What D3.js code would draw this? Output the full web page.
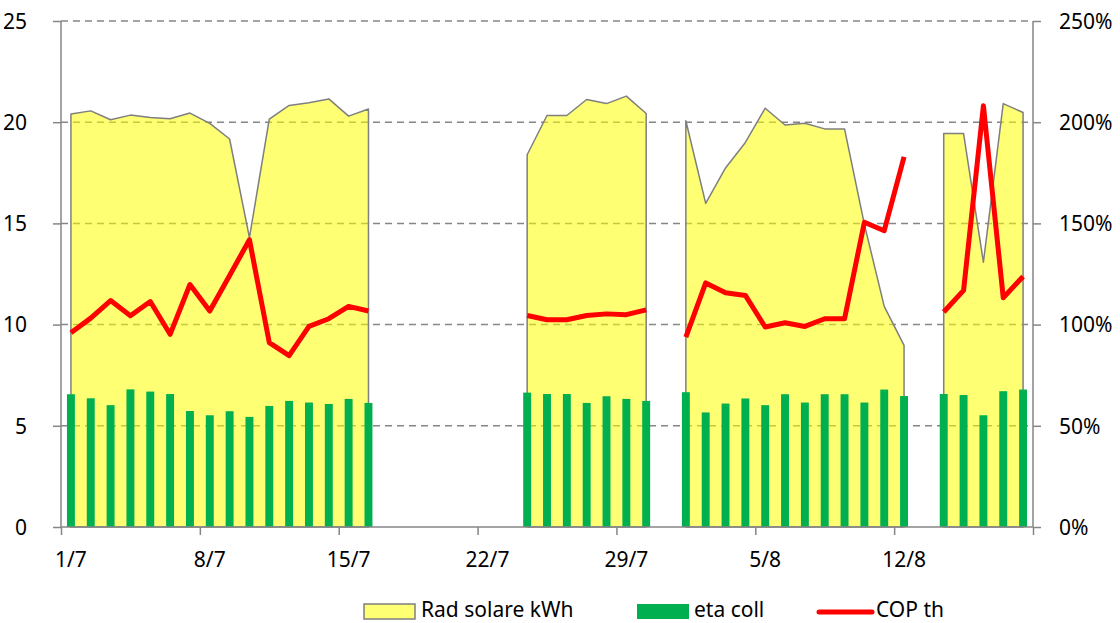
<!DOCTYPE html>
<html>
<head>
<meta charset="utf-8">
<script src="https://cdn.jsdelivr.net/npm/d3@7"></script>
<style>
  body { margin: 0; background: #fff; }
  text { font-family: "Noto Sans", "Open Sans", sans-serif; fill: #000; }
</style>
</head>
<body>
<div id="chart"></div>
<script>
// days 1/7 .. 18/8
const days = d3.timeDays(new Date(2023, 6, 1), new Date(2023, 7, 19))
  .map(d => d.getDate() + "/" + (d.getMonth() + 1));

const radSolare = [
  20.4, 20.56, 20.12, 20.35, 20.23, 20.17, 20.45, 19.94, 19.17, 14.3, 20.15, 20.83, 20.96, 21.15, 20.3, 20.65,
  null, null, null, null, null, null, null,
  18.39, 20.33, 20.33, 21.12, 20.92, 21.29, 20.43,
  null,
  20.07, 15.99, 17.74, 19.0, 20.69, 19.86, 19.95, 19.67, 19.67, 14.95, 10.9, 8.97,
  null,
  19.44, 19.44, 13.08, 20.92, 20.48
];

// %
const etaColl = [
  65.6, 63.6, 60.2, 68.0, 66.9, 65.7, 57.3, 55.2, 57.2, 54.4, 59.8, 62.3, 61.5, 60.8, 63.3, 61.3,
  null, null, null, null, null, null, null,
  66.4, 65.7, 65.7, 61.3, 64.6, 63.3, 62.3,
  null,
  66.6, 56.6, 61.0, 63.5, 60.2, 65.6, 61.5, 65.6, 65.6, 61.5, 67.9, 64.7,
  null,
  65.7, 65.2, 55.2, 67.1, 67.9
];

// %
const copTh = [
  96.0, 103.2, 111.9, 104.4, 111.4, 95.2, 119.8, 106.7, 124.3, 141.9, 91.1, 84.7, 99.1, 102.9, 109, 106.7,
  null, null, null, null, null, null, null,
  104.5, 102.4, 102.4, 104.5, 105.3, 104.9, 107.3,
  null,
  93.8, 120.6, 115.7, 114.4, 98.8, 100.9, 99.1, 102.9, 102.9, 150.6, 146.4, 182.9,
  null,
  106.2, 116.9, 208.1, 113.3, 123.8
];

const leftTicks = [0, 5, 10, 15, 20, 25];
const rightTicks = [0, 50, 100, 150, 200, 250];
const legendItems = ["Rad solare kWh", "eta coll", "COP th"];

const data = days.map((d, i) => ({ day: d, rad: radSolare[i], eta: etaColl[i], cop: copTh[i] }));

const W = 1120, H = 623;
const pLeft = 61, pRight = 1033, pTop = 21, pBottom = 527;

const svg = d3.select("#chart").append("svg")
  .attr("width", W).attr("height", H);

const x = d3.scaleBand()
  .domain(days)
  .range([pLeft, pRight])
  .paddingInner(0.6)
  .paddingOuter(0.3);
const cx = d => x(d) + x.bandwidth() / 2;

const xEdge = d3.scaleLinear().domain([0, days.length]).range([pLeft, pRight]);

const y = d3.scaleLinear().domain([0, 25]).range([pBottom, pTop]);
const y2 = d3.scaleLinear().domain([0, 250]).range([pBottom, pTop]);

// gridlines
svg.append("g")
  .selectAll("line")
  .data(leftTicks.slice(1))
  .join("line")
    .attr("x1", pLeft).attr("x2", pRight)
    .attr("y1", d => y(d)).attr("y2", d => y(d))
    .attr("stroke", "#868686")
    .attr("stroke-width", 1.5)
    .attr("stroke-dasharray", "7,5");

// area
const area = d3.area()
  .defined(d => d.rad != null)
  .x(d => cx(d.day))
  .y0(y(0))
  .y1(d => y(d.rad));

svg.append("path")
  .datum(data)
  .attr("d", area)
  .attr("fill", "#ffff00")
  .attr("fill-opacity", 0.55)
  .attr("stroke", "#7f7f7f")
  .attr("stroke-width", 1.5)
  .attr("stroke-linejoin", "round");

// bars
svg.append("g")
  .selectAll("rect")
  .data(data.filter(d => d.eta != null))
  .join("rect")
    .attr("x", d => x(d.day))
    .attr("width", x.bandwidth())
    .attr("y", d => y2(d.eta))
    .attr("height", d => y2(0) - y2(d.eta))
    .attr("fill", "#00b050");

// axes
const axisColor = "#868686";

const gLeft = svg.append("g")
  .attr("transform", `translate(${pLeft},0)`)
  .call(d3.axisLeft(y).tickValues(leftTicks).tickSize(8).tickPadding(26).tickFormat(d3.format("d")));

const gRight = svg.append("g")
  .attr("transform", `translate(${pRight},0)`)
  .call(d3.axisRight(y2).tickValues(rightTicks).tickSize(8).tickPadding(18).tickFormat(d => d + "%"));

const gBottomTicks = svg.append("g")
  .attr("transform", `translate(0,${pBottom})`)
  .call(d3.axisBottom(xEdge).tickValues(d3.range(0, days.length + 1, 7)).tickSize(8).tickFormat(""));

const gBottom = svg.append("g")
  .attr("transform", `translate(0,${pBottom})`)
  .call(d3.axisBottom(x).tickValues(days.filter((d, i) => i % 7 === 0)).tickSize(0).tickPadding(34));

gBottom.select(".domain").remove();

[gLeft, gRight, gBottomTicks].forEach(g => {
  g.selectAll(".domain").attr("stroke", axisColor).attr("stroke-width", 1.5);
  g.selectAll(".tick line").attr("stroke", axisColor).attr("stroke-width", 1.5);
});
gLeft.select(".domain").attr("d", `M0,${pTop}V${pBottom}`);
gRight.select(".domain").attr("d", `M0,${pTop}V${pBottom}`);
gBottomTicks.select(".domain").attr("d", `M${pLeft},0H${pRight}`);

svg.selectAll(".tick text")
  .style("font-family", '"Noto Sans", "Open Sans", sans-serif')
  .style("font-size", "21px")
  .attr("fill", "#000");
gLeft.selectAll(".tick text").attr("dy", "0.35em");
gRight.selectAll(".tick text").attr("dy", "0.35em");
gBottom.selectAll(".tick text").attr("dy", "0.3em");

// COP line
const line = d3.line()
  .defined(d => d.cop != null)
  .x(d => cx(d.day))
  .y(d => y2(d.cop));

svg.append("path")
  .datum(data)
  .attr("d", line)
  .attr("fill", "none")
  .attr("stroke", "#ff0000")
  .attr("stroke-width", 5)
  .attr("stroke-linejoin", "round");

// legend
const legend = svg.append("g").style("font-size", "21px");

legend.append("rect")
  .attr("x", 364).attr("y", 604).attr("width", 51).attr("height", 15)
  .attr("fill", "#ffff00").attr("fill-opacity", 0.55)
  .attr("stroke", "#7f7f7f").attr("stroke-width", 1.5);
legend.append("text").attr("x", 421).attr("y", 617).text(legendItems[0]);

legend.append("rect")
  .attr("x", 637).attr("y", 604).attr("width", 52).attr("height", 15)
  .attr("fill", "#00b050");
legend.append("text").attr("x", 694).attr("y", 617).text(legendItems[1]);

legend.append("line")
  .attr("x1", 819).attr("x2", 872).attr("y1", 612).attr("y2", 612)
  .attr("stroke", "#ff0000").attr("stroke-width", 5).attr("stroke-linecap", "round");
legend.append("text").attr("x", 876).attr("y", 617).text(legendItems[2]);
</script>
</body>
</html>
